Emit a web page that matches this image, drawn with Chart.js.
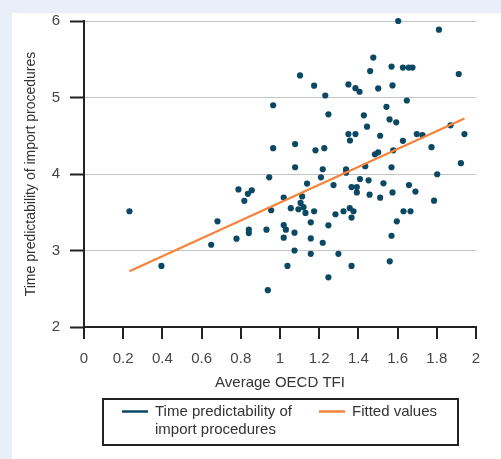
<!DOCTYPE html>
<html><head><meta charset="utf-8">
<script src="https://cdn.jsdelivr.net/npm/chart.js@4"></script>
<style>html,body{margin:0;padding:0;background:#fff;}canvas{display:block;}</style>
</head><body>
<canvas id="c" width="501" height="459"></canvas>
<script>
const xValues = [0.232,0.395,0.649,0.681,0.778,0.788,0.818,0.836,0.856,0.841,0.841,0.931,0.938,0.945,0.955,0.965,0.965,1.019,1.019,1.030,1.019,1.038,1.055,1.074,1.074,1.077,1.077,1.102,1.094,1.105,1.113,1.120,1.130,1.138,1.157,1.157,1.157,1.174,1.174,1.181,1.226,1.209,1.218,1.218,1.231,1.247,1.247,1.247,1.273,1.283,1.298,1.324,1.337,1.337,1.349,1.349,1.357,1.356,1.365,1.365,1.365,1.375,1.385,1.385,1.392,1.392,1.406,1.408,1.428,1.435,1.444,1.452,1.457,1.460,1.476,1.484,1.501,1.501,1.511,1.511,1.528,1.543,1.559,1.560,1.569,1.569,1.569,1.574,1.574,1.578,1.593,1.596,1.603,1.627,1.627,1.630,1.647,1.657,1.676,1.658,1.666,1.691,1.698,1.727,1.773,1.786,1.802,1.811,1.870,1.912,1.923,1.941];
const yValues = [3.513,2.799,3.075,3.382,3.154,3.799,3.649,3.741,3.786,3.272,3.228,3.272,2.482,3.957,3.526,4.899,4.338,3.693,3.333,3.272,3.167,2.799,3.553,3.233,3.000,4.391,4.088,5.289,3.539,3.622,3.707,3.566,3.491,3.875,3.368,3.158,2.957,3.513,5.154,4.309,4.338,3.957,4.062,3.101,5.026,4.780,3.329,2.649,3.855,3.474,2.957,3.513,4.062,4.017,5.171,4.522,4.438,3.553,3.829,3.430,2.799,3.513,5.122,4.522,3.829,3.759,5.075,3.934,4.767,4.101,4.618,3.917,3.730,5.346,5.522,4.257,4.283,5.118,4.500,3.691,3.878,4.878,4.714,2.859,5.404,4.088,3.193,5.158,3.759,4.309,4.675,3.382,6.000,5.391,4.434,3.513,4.961,5.391,5.391,3.855,3.513,3.770,4.522,4.507,4.351,3.651,3.997,5.886,4.636,5.307,4.142,4.522];
const fitX = [0.232, 1.941];
const fitY = [2.728, 4.724];
const xTickLabels = ['0','0.2','0.4','0.6','0.8','1','1.2','1.4','1.6','1.8','2'];
const yTickLabels = ['2','3','4','5','6'];
const seriesNames = ['Time predictability of import procedures', 'Fitted values'];
const legendLines = [['Time predictability of', 'import procedures'], ['Fitted values']];
const xTitle = 'Average OECD TFI';
const yTitle = 'Time predictability of import procedures';

const FONT = "'Liberation Sans', Arial, sans-serif";
const TEAL = '#0b4864';
const ORANGE = '#f5833a';

const bgPlugin = {
  id: 'bg',
  beforeDraw(chart) {
    const ctx = chart.ctx;
    ctx.save();
    ctx.fillStyle = '#eaeef8';
    ctx.fillRect(0, 0, chart.width, chart.height);
    ctx.fillStyle = '#ffffff';
    ctx.fillRect(12, 13, chart.width - 12, chart.height - 13);
    ctx.restore();
  }
};

// tick marks below the x axis, placed through the x scale
const xTickMarks = {
  id: 'xTickMarks',
  afterDraw(chart) {
    const sx = chart.scales.x;
    const ctx = chart.ctx;
    ctx.save();
    ctx.strokeStyle = '#222';
    ctx.lineWidth = 2;
    sx.ticks.forEach(t => {
      const px = Math.round(sx.getPixelForValue(t.value));
      ctx.beginPath();
      ctx.moveTo(px, sx.top);
      ctx.lineTo(px, sx.top + 12);
      ctx.stroke();
    });
    ctx.restore();
  }
};

const boxLegend = {
  id: 'boxLegend',
  afterDraw(chart) {
    const ctx = chart.ctx;
    ctx.save();
    ctx.strokeStyle = '#222';
    ctx.lineWidth = 2;
    ctx.strokeRect(103, 399, 355, 46);
    ctx.font = '15px ' + FONT;
    ctx.textBaseline = 'middle';
    ctx.textAlign = 'left';
    const swX = [122, 319];
    chart.data.datasets.forEach((ds, i) => {
      ctx.strokeStyle = ds.legendColor;
      ctx.lineWidth = 2.5;
      ctx.beginPath();
      ctx.moveTo(swX[i], 411.5);
      ctx.lineTo(swX[i] + 26, 411.5);
      ctx.stroke();
      ctx.fillStyle = '#333';
      legendLines[i].forEach((t, j) => {
        ctx.fillText(t, swX[i] + 33, 412 + j * 17.5);
      });
    });
    ctx.restore();
  }
};

const scatterData = xValues.map((x, i) => ({x: x, y: yValues[i]}));
const fitData = fitX.map((x, i) => ({x: x, y: fitY[i]}));

new Chart(document.getElementById('c'), {
  type: 'scatter',
  data: {
    datasets: [
      {
        label: seriesNames[0],
        data: scatterData,
        backgroundColor: TEAL,
        borderColor: TEAL,
        borderWidth: 0,
        pointRadius: 3.1,
        pointHoverRadius: 3.1,
        legendColor: TEAL,
        clip: false,
        order: 2
      },
      {
        label: seriesNames[1],
        type: 'line',
        data: fitData,
        borderColor: ORANGE,
        backgroundColor: ORANGE,
        borderWidth: 2.2,
        pointRadius: 0,
        fill: false,
        legendColor: ORANGE,
        order: 1
      }
    ]
  },
  options: {
    responsive: false,
    animation: false,
    devicePixelRatio: 1,
    layout: { padding: { left: 19, top: 21, right: 25, bottom: 63 } },
    plugins: { legend: { display: false }, tooltip: { enabled: false } },
    scales: {
      x: {
        type: 'linear',
        min: 0, max: 2,
        afterFit(s) { s.height = 69; },
        ticks: {
          stepSize: 0.2,
          autoSkip: false,
          maxRotation: 0,
          padding: 11,
          color: '#444',
          font: { family: FONT, size: 15 },
          callback: (v, i) => xTickLabels[i]
        },
        grid: { drawOnChartArea: false, drawTicks: true, tickLength: 12, color: '#222', tickColor: '#222', tickWidth: 2, lineWidth: 2 },
        border: { color: '#222', width: 2 },
        title: { display: true, text: xTitle, color: '#333', font: { family: FONT, size: 15 }, padding: { top: 4, bottom: 4 } }
      },
      y: {
        type: 'linear',
        min: 2, max: 6,
        afterFit(s) { s.width = 65; },
        ticks: {
          stepSize: 1,
          padding: 10,
          color: '#444',
          font: { family: FONT, size: 15 },
          callback: (v, i) => yTickLabels[i]
        },
        grid: { color: '#c4c4c4', lineWidth: 1, tickLength: 14, tickColor: '#222', tickWidth: 2 },
        border: { color: '#222', width: 2 },
        title: { display: true, text: yTitle, color: '#333', font: { family: FONT, size: 14 }, padding: { top: 4, bottom: 4 } }
      }
    }
  },
  plugins: [bgPlugin, xTickMarks, boxLegend]
});
</script>
</body></html>
